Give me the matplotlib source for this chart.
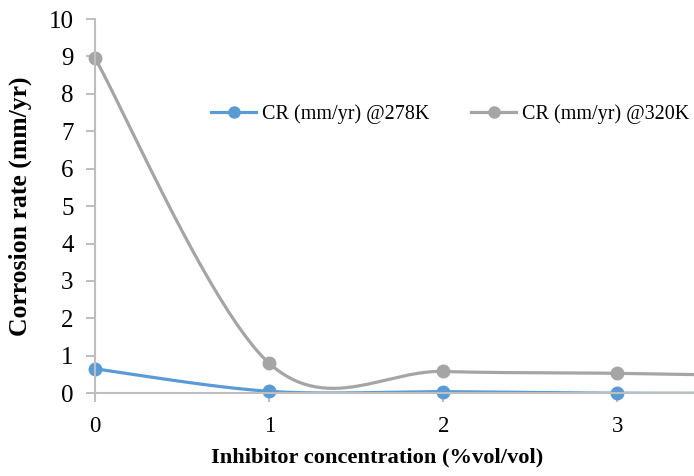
import numpy as np
import matplotlib.pyplot as plt

conc = [0, 1, 2, 3, 4]
cr_278 = [0.65, 0.05, 0.04, 0.0, 0.0]
cr_320 = [8.95, 0.80, 0.58, 0.53, 0.45]


def smooth(x, y, n=60):
    # excel-like smoothed line (catmull-rom as bezier)
    x = np.asarray(x, float)
    y = np.asarray(y, float)
    px = np.concatenate([[x[0]], x, [x[-1]]])
    py = np.concatenate([[y[0]], y, [y[-1]]])
    xs, ys = [], []
    t = np.linspace(0, 1, n)
    for i in range(1, len(px) - 2):
        p0 = np.array([px[i], py[i]])
        p3 = np.array([px[i + 1], py[i + 1]])
        c1 = p0 + (np.array([px[i + 1], py[i + 1]]) - np.array([px[i - 1], py[i - 1]])) / 6
        c2 = p3 - (np.array([px[i + 2], py[i + 2]]) - np.array([px[i], py[i]])) / 6
        b = ((1 - t) ** 3)[:, None] * p0 + (3 * (1 - t) ** 2 * t)[:, None] * c1 \
            + (3 * (1 - t) * t ** 2)[:, None] * c2 + (t ** 3)[:, None] * p3
        xs.extend(b[:, 0])
        ys.extend(b[:, 1])
    return xs, ys


plt.rcParams['font.family'] = 'Liberation Serif'

fig = plt.figure(figsize=(6.94, 4.76), dpi=100)
ax = fig.add_axes([0.137, 0.174, 0.863, 0.786])

blue = '#5B9BD5'
grey = '#A5A5A5'

sx, sy = smooth(conc, cr_278)
ax.plot(sx, sy, color=blue, lw=2.3, solid_capstyle='round')
ax.plot(conc, cr_278, 'o', color=blue, ms=9, clip_on=False)
ax.plot([], [], '-o', color=blue, lw=2.3, ms=8, label='CR (mm/yr) @278K')

sx, sy = smooth(conc, cr_320)
ax.plot(sx, sy, color=grey, lw=2.3, solid_capstyle='round')
ax.plot(conc, cr_320, 'o', color=grey, ms=9, clip_on=False)
ax.plot([], [], '-o', color=grey, lw=2.3, ms=8, label='CR (mm/yr) @320K')

ax.set_xlim(0, 3.44)
ax.set_ylim(0, 10)
ax.set_xticks([0, 1, 2, 3])
ax.set_yticks(range(0, 11))

for s in ['top', 'right']:
    ax.spines[s].set_visible(False)
for s in ['left', 'bottom']:
    ax.spines[s].set_color('#BFBFBF')
    ax.spines[s].set_linewidth(1.5)
ax.tick_params(colors='#BFBFBF', labelcolor='black', width=1.5, length=6.5)
ax.tick_params(axis='y', labelsize=18, pad=9)
ax.tick_params(axis='x', labelsize=16.5, pad=10)

ax.set_xlabel('Inhibitor concentration (%vol/vol)', fontsize=16.2, fontweight='bold')
ax.set_ylabel('Corrosion rate (mm/yr)', fontsize=18.5, fontweight='bold')
ax.xaxis.set_label_coords(0.471, -0.146)
ax.yaxis.set_label_coords(-0.106, 0.50)

ax.legend(loc='center', bbox_to_anchor=(0.593, 0.745), ncol=2, frameon=False,
          fontsize=14.5, handlelength=2.2, columnspacing=2.1, handletextpad=0.3)

fig.savefig('out.png', dpi=100)
